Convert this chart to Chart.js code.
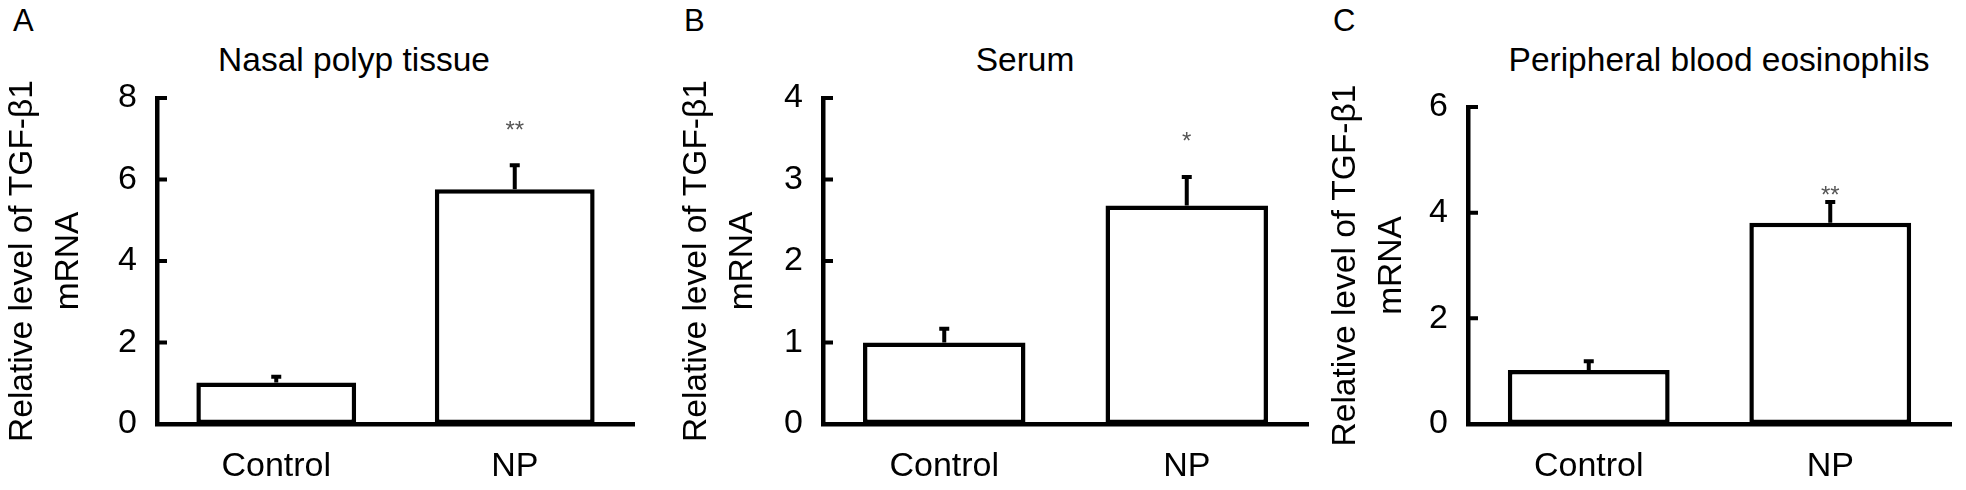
<!DOCTYPE html>
<html>
<head>
<meta charset="utf-8">
<script src="https://cdn.jsdelivr.net/npm/chart.js@4.4.0/dist/chart.umd.min.js"></script>
<style>
  body { margin: 0; background: #fff; width: 1966px; height: 490px; overflow: hidden; position: relative;
         font-family: "Liberation Sans", Arial, sans-serif; color: #000; }
  canvas { position: absolute; top: 0; }
  .letter { position: absolute; top: 5px; font-size: 31px; line-height: 31px; }
  .title { position: absolute; top: 43px; font-size: 33.5px; line-height: 33.5px; white-space: nowrap; transform: translateX(-50%); }
</style>
</head>
<body>
<div class="letter" style="left:13px">A</div>
<div class="letter" style="left:684px">B</div>
<div class="letter" style="left:1333px">C</div>
<div class="title" style="left:354px">Nasal polyp tissue</div>
<div class="title" style="left:1025px">Serum</div>
<div class="title" style="left:1719px">Peripheral blood eosinophils</div>

<canvas id="chartA" width="650" height="490" style="left:0px"></canvas>
<canvas id="chartB" width="670" height="490" style="left:650px"></canvas>
<canvas id="chartC" width="646" height="490" style="left:1320px"></canvas>

<script>
// dados
const categorias = ['Control', 'NP'];
const yTitulo = ['Relative level of TGF-\u03b21', 'mRNA'];

const tecidoMedia = [1.02, 5.76];
const tecidoErro = [0.14, 0.59];
const tecidoMarca = ['', '**'];

const soroMedia = [1.0, 2.68];
const soroErro = [0.17, 0.35];
const soroMarca = ['', '*'];

const eosMedia = [1.02, 3.81];
const eosErro = [0.17, 0.39];
const eosMarca = ['', '**'];

const FONTE = '"Liberation Sans", Arial, sans-serif';

// barras de erro (só a metade de cima), asteriscos e ticks para dentro
const extras = {
  id: 'extras',
  afterDraw(chart, args, opts) {
    const { ctx, chartArea, scales: { y } } = chart;
    const meta = chart.getDatasetMeta(0);
    const dados = chart.data.datasets[0].data;
    ctx.save();
    ctx.strokeStyle = '#000';
    ctx.lineWidth = 4;
    ctx.lineCap = 'butt';

    opts.erros.forEach((e, i) => {
      const px = meta.data[i].x;
      const base = y.getPixelForValue(dados[i]);
      const topo = y.getPixelForValue(dados[i] + e);
      ctx.beginPath();
      ctx.moveTo(px, base);
      ctx.lineTo(px, topo);
      ctx.moveTo(px - 5, topo);
      ctx.lineTo(px + 5, topo);
      ctx.stroke();

      if (opts.marcas[i]) {
        ctx.fillStyle = '#555';
        ctx.font = '24px ' + FONTE;
        ctx.textAlign = 'center';
        ctx.textBaseline = 'middle';
        ctx.fillText(opts.marcas[i], px, topo - opts.gapMarca);
      }
    });

    // ticks do eixo y apontando para dentro
    ctx.beginPath();
    y.ticks.forEach(t => {
      const py = y.getPixelForValue(t.value);
      ctx.moveTo(chartArea.left, py);
      ctx.lineTo(chartArea.left + 10, py);
    });
    ctx.stroke();
    ctx.restore();
  }
};

function criarPainel(id, medias, erros, marcas, yMax, passo, g) {
  const ctx = document.getElementById(id).getContext('2d');
  return new Chart(ctx, {
    type: 'bar',
    data: {
      labels: categorias,
      datasets: [{
        data: medias,
        backgroundColor: '#fff',
        borderColor: '#000',
        borderWidth: 4.5,
        borderSkipped: false,
        barPercentage: 0.67,
        categoryPercentage: 1
      }]
    },
    options: {
      responsive: false,
      animation: false,
      layout: { padding: { top: g.topo, right: g.direita, left: 0, bottom: 0 } },
      plugins: {
        legend: { display: false },
        tooltip: { enabled: false },
        extras: { erros: erros, marcas: marcas, gapMarca: g.gapMarca }
      },
      scales: {
        x: {
          grid: { display: false, drawTicks: false },
          border: { display: true, color: '#000', width: 4.5 },
          ticks: { color: '#000', padding: 22, font: { family: FONTE, size: 34 } },
          afterFit: s => { s.height = 66; }
        },
        y: {
          min: 0,
          max: yMax,
          grid: { display: false, drawTicks: false },
          border: { display: true, color: '#000', width: 4.5 },
          ticks: { stepSize: passo, color: '#000', padding: 20, font: { family: FONTE, size: 34 } },
          title: {
            display: true,
            text: yTitulo,
            color: '#000',
            font: { family: FONTE, size: 33.5, lineHeight: 1.36 },
            padding: { top: g.tituloPad, bottom: 0 }
          },
          afterFit: s => { s.width = g.larguraEixo; }
        }
      }
    },
    plugins: [extras]
  });
}

criarPainel('chartA', tecidoMedia, tecidoErro, tecidoMarca, 8, 2,
  { topo: 98, direita: 16, larguraEixo: 157, tituloPad: 0, gapMarca: 34 });
criarPainel('chartB', soroMedia, soroErro, soroMarca, 4, 1,
  { topo: 98, direita: 12, larguraEixo: 173, tituloPad: 24, gapMarca: 35 });
criarPainel('chartC', eosMedia, eosErro, eosMarca, 6, 2,
  { topo: 107, direita: 15, larguraEixo: 148, tituloPad: 3, gapMarca: 6 });
</script>
</body>
</html>
